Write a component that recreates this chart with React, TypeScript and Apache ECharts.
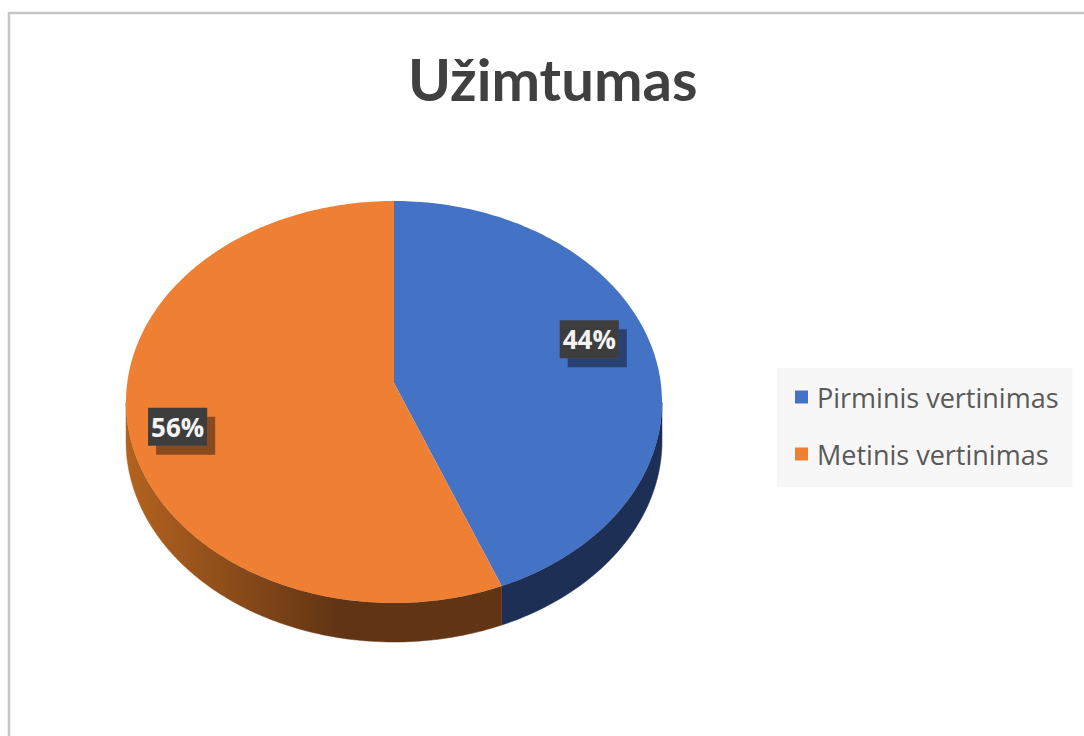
import React, { useEffect, useRef } from "react";
import * as echarts from "echarts";

const title = "Užimtumas";
const categories = ["Pirminis vertinimas", "Metinis vertinimas"];
const values = [44, 56];
const topColors = ["#4472c4", "#ef7f32"];

// layout / style constants
const CX = 394, CY = 383, A = 266.8, B = 199.2, K = 0.0945, DEPTH = 39;
const labelR = [0.755, 0.81];
const labelShift = [[0, -16], [-1, 13]];

function proj(theta: number, r = 1): [number, number] {
  const u = r * Math.sin(theta);
  const v = -r * Math.cos(theta);
  const w = 1 - K * v;
  return [CX + (A * u) / w, CY + (B * v) / w];
}

function arcPts(a0: number, a1: number, dy = 0): number[][] {
  const pts: number[][] = [];
  const n = Math.max(2, Math.ceil(((a1 - a0) * 180) / Math.PI));
  for (let k = 0; k <= n; k++) {
    const t = a0 + ((a1 - a0) * k) / n;
    const p = proj(t);
    pts.push([p[0], p[1] + dy]);
  }
  return pts;
}

const total = values.reduce((s, v) => s + v, 0);
const sideLo = Math.acos(-K);
const sideHi = 2 * Math.PI - sideLo;

const sideFills: any[] = [
  "#1d2f54",
  new echarts.graphic.LinearGradient(126, 0, 340, 0, [
    { offset: 0, color: "#b4631f" },
    { offset: 1, color: "#613414" },
  ], true),
];

function makeRenderItem(i: number) {
  return (params: any, api: any) => {
    const val = api.value(0);
    let before = 0;
    for (let j = 0; j < i; j++) before += values[j];
    const a0 = (before / total) * 2 * Math.PI;
    const a1 = ((before + val) / total) * 2 * Math.PI;
    const children: any[] = [];
    const s0 = Math.max(a0, sideLo);
    const s1 = Math.min(a1, sideHi);
    if (s1 > s0) {
      const topArc = arcPts(s0, s1);
      const botArc = arcPts(s0, s1, DEPTH).reverse();
      children.push({
        type: "polygon",
        shape: { points: topArc.concat(botArc) },
        style: { fill: sideFills[i], stroke: sideFills[i], lineWidth: 0.5 },
      });
    }
    const c = proj(0, 0);
    children.push({
      type: "polygon",
      shape: { points: [[c[0], c[1]]].concat(arcPts(a0, a1)) },
      style: { fill: topColors[i] },
    });
    const mid = (a0 + a1) / 2;
    const lp = proj(mid, labelR[i]);
    const lx = lp[0] + labelShift[i][0];
    const ly = lp[1] + labelShift[i][1];
    const txt = Math.round((val / total) * 100) + "%";
    children.push({
      type: "text",
      z2: 11,
      style: {
        text: txt,
        x: lx,
        y: ly,
        fontSize: 26,
        fontWeight: "bold",
        fontFamily: "Open Sans",
        align: "center",
        verticalAlign: "middle",
        padding: [6, 3, 6, 3],
        fill: "#f4f4f4",
        backgroundColor: "#3d3d3d",
        shadowColor: "rgba(0,0,0,0.42)",
        shadowBlur: 0,
        shadowOffsetX: 8,
        shadowOffsetY: 9,
      },
    });
    return { type: "group", children };
  };
}

export default function App() {
  const ref = useRef<HTMLDivElement>(null);
  useEffect(() => {
    if (!ref.current) return;
    const chart = echarts.init(ref.current, null, { renderer: "svg" });
    chart.setOption({
      animation: false,
      backgroundColor: "#ffffff",
      title: {
        text: title,
        left: 408,
        top: 49,
        padding: 0,
        textStyle: { fontFamily: "Lato", fontWeight: "bold", fontSize: 58, color: "#404040" },
      },
      legend: {
        orient: "vertical",
        left: 777,
        top: 368,
        backgroundColor: "#f7f7f7",
        padding: [15, 14, 19, 18],
        itemWidth: 13,
        itemHeight: 13,
        itemGap: 29,
        icon: "rect",
        data: categories,
        textStyle: { fontFamily: "Open Sans", fontSize: 27, color: "#595959", lineHeight: 28, padding: [0, 0, 0, 4] },
      },
      graphic: [
        {
          type: "rect",
          silent: true,
          shape: { x: 9, y: 13, width: 1200, height: 800 },
          style: { fill: "none", stroke: "#c6c6c6", lineWidth: 2.5 },
        },
      ],
      series: categories.map((name, i) => ({
        type: "custom",
        name,
        coordinateSystem: "none",
        itemStyle: { color: topColors[i] },
        data: [values[i]],
        renderItem: makeRenderItem(i),
      })),
    });
    return () => chart.dispose();
  }, []);
  return (
    <div
      ref={ref}
      style={{ position: "absolute", left: 0, top: 0, width: 1084, height: 736 }}
    />
  );
}
